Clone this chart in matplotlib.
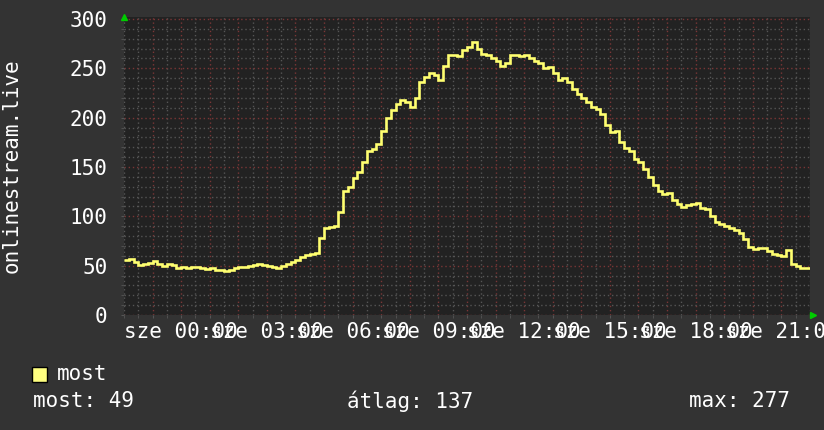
import numpy as np
import matplotlib
matplotlib.use("Agg")
import matplotlib.pyplot as plt
from matplotlib.patches import Rectangle
from matplotlib.ticker import MultipleLocator, FixedLocator, FixedFormatter

plt.rcParams['font.family'] = ['DejaVu Sans Mono', 'DejaVu Sans']

# 10-minute samples, starting at 22:00 the day before
start_hour = -2.0
step_hours = 1 / 6
values = [56, 57, 54, 51, 52, 53, 55, 52, 50, 52,
          51, 48, 49, 48, 49, 49, 48, 47, 48, 46,
          46, 45, 46, 48, 49, 49, 50, 51, 52, 51,
          50, 49, 48, 50, 52, 54, 56, 59, 61, 62,
          63, 78, 88, 89, 90, 104, 126, 130, 139, 145,
          155, 166, 168, 173, 186, 200, 208, 214, 218, 216,
          211, 220, 236, 241, 245, 243, 238, 252, 263, 263,
          262, 269, 272, 277, 270, 265, 263, 260, 257, 252,
          255, 263, 263, 262, 263, 260, 257, 255, 250, 251,
          245, 238, 240, 236, 229, 224, 220, 216, 211, 209,
          204, 193, 185, 186, 175, 169, 166, 158, 155, 148,
          140, 132, 126, 123, 124, 117, 112, 109, 111, 112,
          114, 108, 107, 100, 94, 92, 90, 88, 86, 83,
          77, 69, 67, 68, 68, 65, 62, 61, 60, 66,
          52, 50, 48, 48]

label_hours = [0, 3, 6, 9, 12, 15, 18, 21]
label_texts = ["sze 00:00", "sze 03:00", "sze 06:00", "sze 09:00",
               "sze 12:00", "sze 15:00", "sze 18:00", "sze 21:00"]
y_label = "onlinestream.live"
legend_name = "most"
stat_texts = ["most: 49", "átlag: 137", "max: 277"]

BG = '#333333'
CANVAS = '#222222'
MINOR = '#555555'
MAJOR = '#7a3636'
LINE = '#ffff70'

W, H = 824, 430
fig = plt.figure(figsize=(W / 100, H / 100), dpi=100)
fig.patch.set_facecolor(BG)
ax = fig.add_axes([124 / W, 115 / H, 686 / W, 298 / H])
ax.set_facecolor(CANVAS)

edges = start_hour + step_hours * np.arange(len(values) + 1)
ax.stairs(values, edges, baseline=None, color=LINE, linewidth=1.9, zorder=3)

ax.set_xlim(-2, 22)
ax.set_ylim(0, 302)

# x grid: hourly major (red), half-hourly minor (gray), labels every 3 h
hours = list(range(-1, 22))
hour_labels = []
for h in hours:
    hour_labels.append(label_texts[label_hours.index(h)] if h in label_hours else "")
ax.xaxis.set_major_locator(FixedLocator(hours))
ax.xaxis.set_major_formatter(FixedFormatter(hour_labels))
ax.xaxis.set_minor_locator(MultipleLocator(0.5))
ax.yaxis.set_major_locator(MultipleLocator(50))
ax.yaxis.set_minor_locator(MultipleLocator(10))

ax.grid(True, which='major', color=MAJOR, linestyle=(0, (1, 2)), linewidth=1)
ax.grid(True, which='minor', color=MINOR, linestyle=(0, (1, 2)), linewidth=1)
ax.set_axisbelow(True)

for s in ax.spines.values():
    s.set_visible(False)

ax.tick_params(axis='both', which='both', colors='#555555', length=2,
               labelcolor='white', labelsize=15)
ax.tick_params(axis='y', pad=10)
ax.tick_params(axis='x', pad=3)

# axis arrows
ax.plot([0.0], [1.0], marker='^', color='#00cc00', markersize=5,
        transform=ax.transAxes, clip_on=False, zorder=5)
ax.plot([1.004], [0.0], marker='>', color='#00cc00', markersize=5,
        transform=ax.transAxes, clip_on=False, zorder=5)

fig.text(12 / W, 1 - 166 / H, y_label, rotation=90, ha='center', va='center',
         color='white', fontsize=15)

# legend
fig.add_artist(Rectangle((32 / W, 1 - 382 / H), 15 / W, 15 / H,
                         transform=fig.transFigure, facecolor='#ffff80',
                         edgecolor='black', linewidth=1))
fig.text(57 / W, 1 - 374 / H, legend_name, ha='left', va='center',
         color='white', fontsize=15)
for x0, t in zip([33, 347, 689], stat_texts):
    fig.text(x0 / W, 1 - 401 / H, t, ha='left', va='center',
             color='white', fontsize=15)

fig.savefig('out.png', dpi=100, facecolor=BG)
